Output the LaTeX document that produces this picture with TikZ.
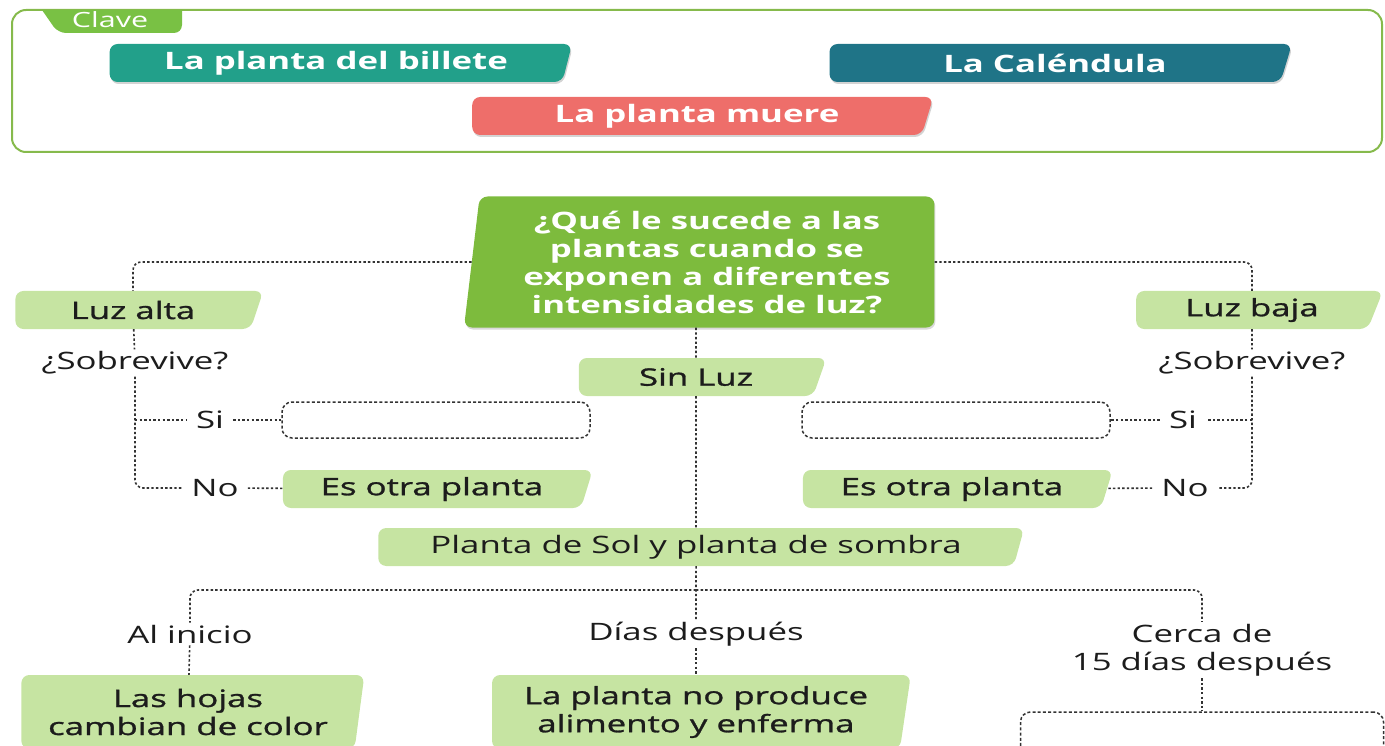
\documentclass[tikz,border=0pt]{standalone}
\usepackage{fontspec}
\setmainfont{Open Sans}[FakeStretch=1.45]
\newfontfamily\semifont{Open Sans}[FakeStretch=1.45,FakeBold=1.2]
\usetikzlibrary{shapes.geometric,shadows}
\definecolor{leaf}{HTML}{C6E4A2}
\definecolor{sprout}{HTML}{7DBB3D}
\definecolor{tealA}{HTML}{22A08A}
\definecolor{tealB}{HTML}{1F7487}
\definecolor{salmon}{HTML}{EE6E6A}
\definecolor{keyline}{HTML}{86BA4C}
\definecolor{ink}{HTML}{1C1C1C}

\begin{document}
\begin{tikzpicture}[x=1pt, y=-1pt,
  font=\fontsize{24}{28}\selectfont,
  link/.style={draw=black!80, line width=1.6pt, dash pattern=on 2.4pt off 2.2pt, rounded corners=8pt},
  slab/.style={trapezium, trapezium left angle=90, trapezium right angle=110, trapezium stretches=true,
    rounded corners=8pt, minimum height=38pt, inner sep=0pt, align=center},
  keytag/.style={slab, text=white, font=\fontsize{24}{28}\selectfont\bfseries, trapezium right angle=107,
    drop shadow={opacity=0.35, shadow xshift=1pt, shadow yshift=-2pt}},
  tag/.style={slab, fill=leaf, text=ink, font=\fontsize{24}{28}\selectfont\semifont},
  hole/.style={draw=black!80, line width=1.5pt, dash pattern=on 3pt off 2.2pt, rounded corners=10pt,
    minimum height=36pt, inner sep=0pt},
  lbl/.style={text=ink, inner xsep=9pt, inner ysep=2pt, align=center}
]
\clip (0,0) rectangle (1385,746);

% clave
\node[draw=keyline, line width=2pt, rounded corners=14pt, minimum width=1370pt, minimum height=142pt, inner sep=0pt] (clave) at (697,81) {};
\fill[keyline!90!green] (42,10) -- (182,10) [rounded corners=8pt] -- (182,33) -- (58,33) [sharp corners] -- (42,10) -- cycle;
\node[text=white, font=\fontsize{21}{24}\selectfont, inner sep=0pt] (clavetxt) at (110,20) {Clave};
\node[keytag, fill=tealA, minimum width=464pt] (billete) at (336,63) {La planta del billete};
\node[keytag, fill=tealB, minimum width=464pt] (calendula) at (1055,63) {La Caléndula};
\node[keytag, fill=salmon, minimum width=462pt] (muere) at (697,116) {La planta muere};

% pregunta
\node[slab, fill=sprout, text=white, font=\fontsize{24}{28}\selectfont\bfseries, trapezium left angle=83,
  trapezium right angle=90, minimum width=472pt, minimum height=131pt,
  drop shadow={opacity=0.3, shadow xshift=1pt, shadow yshift=-2pt}] (pregunta) at (707,262)
  {¿Qué le sucede a las\\plantas cuando se\\exponen a diferentes\\intensidades de luz?};

% luz alta
\node[tag, minimum width=248pt] (luzalta) at (133,310) {Luz alta};
\node[lbl] (sobA) at (135,363) {¿Sobrevive?};
\node[lbl] (siA) at (210,420) {Si};
\node[lbl] (noA) at (215,488) {No};
\node[hole, minimum width=308pt] (vacioA) at (436,420) {};
\node[tag, minimum width=310pt] (otraA) at (432,489) {Es otra planta};

% luz baja
\node[tag, minimum width=247pt] (luzbaja) at (1252,310) {Luz baja};
\node[lbl] (sobB) at (1252,363) {¿Sobrevive?};
\node[lbl] (siB) at (1183,420) {Si};
\node[lbl] (noB) at (1185,488) {No};
\node[hole, minimum width=308pt] (vacioB) at (956,420) {};
\node[tag, minimum width=310pt] (otraB) at (952,489) {Es otra planta};

% sin luz
\node[tag, minimum width=248pt] (sinluz) at (696,377) {Sin Luz};
\node[tag, minimum width=648pt, font=\fontsize{24}{28}\selectfont] (sol) at (696,547) {Planta de Sol y planta de sombra};
\coordinate (reparto) at (696,590);
\node[lbl] (inicio) at (190,634) {Al inicio};
\node[lbl] (dias) at (696,634) {Días después};
\node[lbl] (cerca) at (1202,650) {Cerca de\\15 días después};
\node[tag, minimum width=344pt, minimum height=74pt, trapezium right angle=100] (hojas) at (188,712) {Las hojas\\cambian de color};
\node[tag, minimum width=420pt, minimum height=74pt, trapezium right angle=100] (noprod) at (696,712) {La planta no produce\\alimento y enferma};
\node[hole, minimum width=363pt, minimum height=60pt] (vacioC) at (1202,742) {};

\draw[link] (pregunta.west) -| (luzalta);
\draw[link] (luzalta) -- (sobA);
\draw[link] (sobA) |- (noA);
\draw[link] (sobA |- siA) -- (siA);
\draw[link] (siA) -- (vacioA);
\draw[link] (noA) -- (otraA);

\draw[link] (pregunta.east) -| (luzbaja);
\draw[link] (luzbaja) -- (sobB);
\draw[link] (sobB) |- (noB);
\draw[link] (sobB |- siB) -- (siB);
\draw[link] (siB) -- (vacioB);
\draw[link] (noB) -- (otraB);

\draw[link] (sinluz |- pregunta.south) -- (sinluz);
\draw[link] (sinluz) -- (sol);
\draw[link] (sol) -- (dias);
\draw[link] (reparto) -| (inicio);
\draw[link] (reparto) -| (cerca);
\draw[link] (inicio) -- (hojas);
\draw[link] (dias) -- (noprod);
\draw[link] (cerca) -- (vacioC);
\end{tikzpicture}
\end{document}
